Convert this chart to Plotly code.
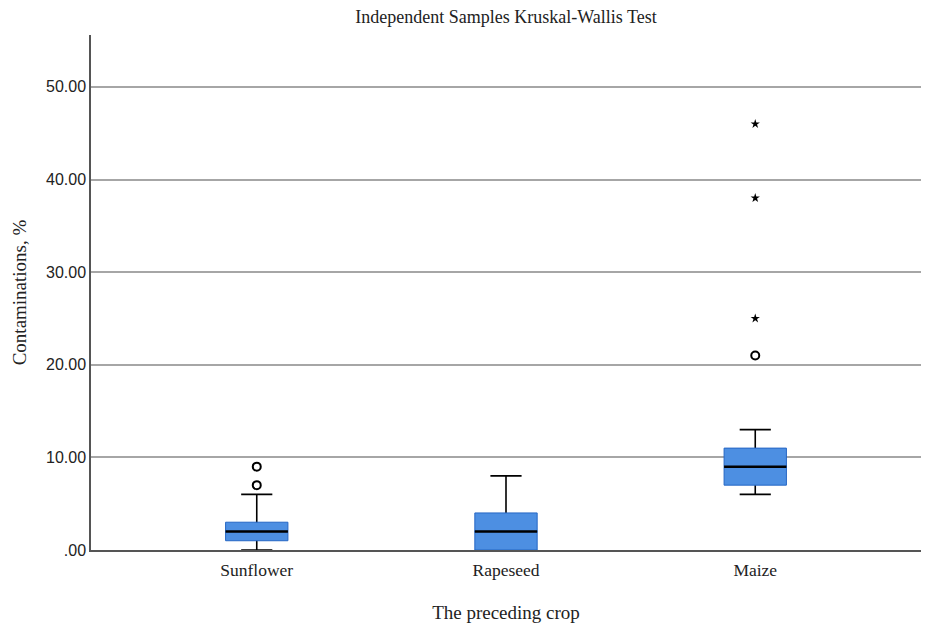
import plotly.graph_objects as go

# box statistics (Contaminations, %)
crops = ["Sunflower", "Rapeseed", "Maize"]
q1 = [1, 0, 7]
median = [2, 2, 9]
q3 = [3, 4, 11]
lower = [0, 0, 6]
upper = [6, 8, 13]

# outliers: circles (mild) and stars (extreme)
mild_x = ["Sunflower", "Sunflower", "Maize"]
mild_y = [7, 9, 21]
extreme_x = ["Maize", "Maize", "Maize"]
extreme_y = [25, 38, 46]

ytick_vals = [0, 10, 20, 30, 40, 50]
ytick_text = [".00", "10.00", "20.00", "30.00", "40.00", "50.00"]

SERIF = "Liberation Serif"
SANS = "Liberation Sans"
BOX_W = 0.25

fig = go.Figure()

# whiskers in black (drawn under the box)
fig.add_trace(go.Box(
    x=crops, q1=median, median=median, q3=median,
    lowerfence=lower, upperfence=upper,
    width=BOX_W, whiskerwidth=0.5,
    line=dict(color="black", width=1.6),
    fillcolor="rgba(0,0,0,0)", boxpoints=False, hoverinfo="skip",
))

# the blue box itself, without whiskers
fig.add_trace(go.Box(
    x=crops, q1=q1, median=median, q3=q3,
    lowerfence=q1, upperfence=q3,
    width=BOX_W, whiskerwidth=0,
    line=dict(color="#2566c4", width=1),
    fillcolor="#4d8fe2", boxpoints=False,
))

# thick black median line
fig.add_trace(go.Box(
    x=crops, q1=median, median=median, q3=median,
    lowerfence=median, upperfence=median,
    width=BOX_W, whiskerwidth=0,
    line=dict(color="black", width=2.5),
    fillcolor="rgba(0,0,0,0)", boxpoints=False, hoverinfo="skip",
))

fig.add_trace(go.Scatter(
    x=mild_x, y=mild_y, mode="markers",
    marker=dict(symbol="circle-open", size=8, color="black", line=dict(width=2)),
))
fig.add_trace(go.Scatter(
    x=extreme_x, y=extreme_y, mode="markers",
    marker=dict(symbol="star", size=7, color="black"),
))

# the page adds an 8px body margin, so the margins are shifted to compensate
fig.update_layout(
    width=934, height=635,
    margin=dict(l=83, r=21, t=27, b=93),
    plot_bgcolor="white", paper_bgcolor="white",
    showlegend=False, boxmode="overlay",
    font=dict(family=SERIF, size=15.5, color="#222"),
    title=dict(text="Independent Samples Kruskal-Wallis Test", x=0.5, xanchor="center",
               xref="paper", y=0.986, yanchor="middle", font=dict(size=18)),
)
fig.update_xaxes(
    type="category", range=[-0.665, 2.665],
    showline=True, linecolor="#555", linewidth=1.5,
    showgrid=False, ticks="", tickfont=dict(size=17.5),
    ticklabelstandoff=3,
    title=dict(text="The preceding crop", standoff=27),
)
fig.update_yaxes(
    range=[0, 55.6], tickvals=ytick_vals, ticktext=ytick_text,
    showline=True, linecolor="#555", linewidth=1.5,
    showgrid=True, gridcolor="#a6a6a6", gridwidth=1.5, zeroline=False,
    ticks="", tickfont=dict(family=SANS, size=16),
    title=dict(text="Contaminations, %", standoff=14),
)

fig.write_html("out.html")
